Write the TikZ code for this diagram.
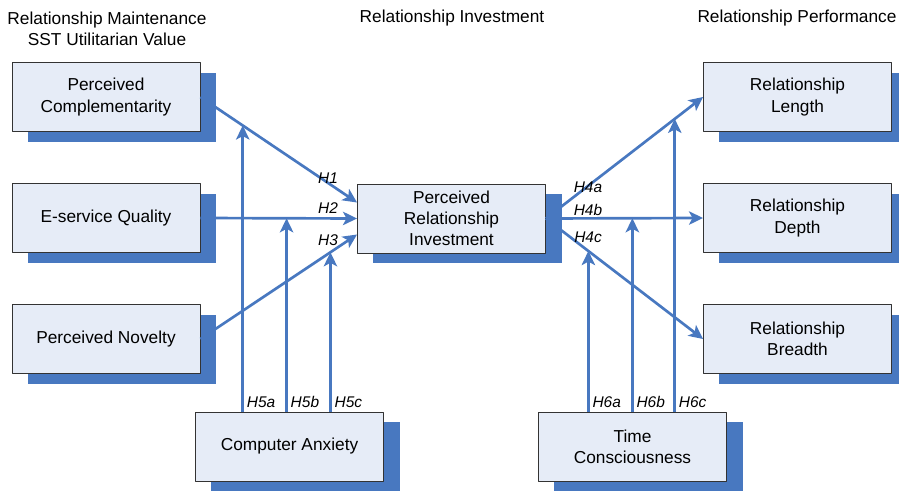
\documentclass[tikz,border=0pt]{standalone}
\usepackage{fontspec}
\setmainfont{Liberation Sans}
\usetikzlibrary{arrows.meta,shadows}
\definecolor{linkblue}{RGB}{72,120,192}
\definecolor{boxfill}{RGB}{230,236,247}
\begin{document}
\begin{tikzpicture}[x=0.025cm, y=-0.025cm, font=\fontsize{12.3}{15}\selectfont, line join=round, >={Stealth[length=10pt,width=9.5pt,inset=2.5pt]},
		box/.style={draw=black!80, line width=0.6pt, fill=boxfill, minimum width=4.7cm, minimum height=1.725cm, inner sep=0pt, align=center,
			general shadow={fill=linkblue, shadow xshift=0.4cm, shadow yshift=-0.26cm}},
		link/.style={->, draw=linkblue, line width=1.9pt},
		hyp/.style={font=\fontsize{11}{13}\selectfont\itshape, inner sep=2pt}]
	\useasboundingbox (0,0) rectangle (899,491);
	% column headings
	\node[align=center] (hmaint) at (107,28.5) {Relationship Maintenance\\SST Utilitarian Value};
	\node (hinv) at (452,18) {Relationship Investment};
	\node (hperf) at (797,18) {Relationship Performance};
	% constructs
	\foreach \n/\x/\y/\t in {pc/106/97/{Perceived\\Complementarity}, esq/106/218/{E-service Quality}, pn/106/339/{Perceived Novelty},
			pri/451.5/218.5/{Perceived\\Relationship\\Investment}, rl/797.5/97/{Relationship\\Length}, rd/797.5/218/{Relationship\\Depth},
			rb/797.5/339/{Relationship\\Breadth}, ca/289.5/446.5/{Computer Anxiety}, tc/632.5/446.5/{Time\\Consciousness}}
		\node[box] (\n) at (\x,\y) {\t};
	% direct effects
	\draw[link] (pc.east) -- coordinate[pos=0.27] (m5a) ([yshift=0.4cm]pri.west);
	\draw[link] (esq.east) -- coordinate[pos=0.55] (m5b) (pri.west);
	\draw[link] (pn.east) -- coordinate[pos=0.83] (m5c) ([yshift=-0.4cm]pri.west);
	\draw[link] (pri.east) -- coordinate[pos=0.82] (m6c) (rl.west);
	\draw[link] (pri.east) -- coordinate[pos=0.55] (m6b) (rd.west);
	\draw[link] (pri.east) -- coordinate[pos=0.27] (m6a) (rb.west);
	\foreach \n/\x/\y/\t in {h1/328/178/H1, h2/328/208/H2, h3/328/240/H3, h4a/588/187/H4a, h4b/588/210/H4b, h4c/588/237/H4c}
		\node[hyp] (\n) at (\x,\y) {\t};
	% moderating effects
	\foreach \m/\src/\t in {m5a/ca/H5a, m5b/ca/H5b, m5c/ca/H5c, m6a/tc/H6a, m6b/tc/H6b, m6c/tc/H6c}
		\draw[link] (\src.north -| \m) node[hyp, above right] (l\m) {\t} -- (\m);
\end{tikzpicture}
\end{document}
